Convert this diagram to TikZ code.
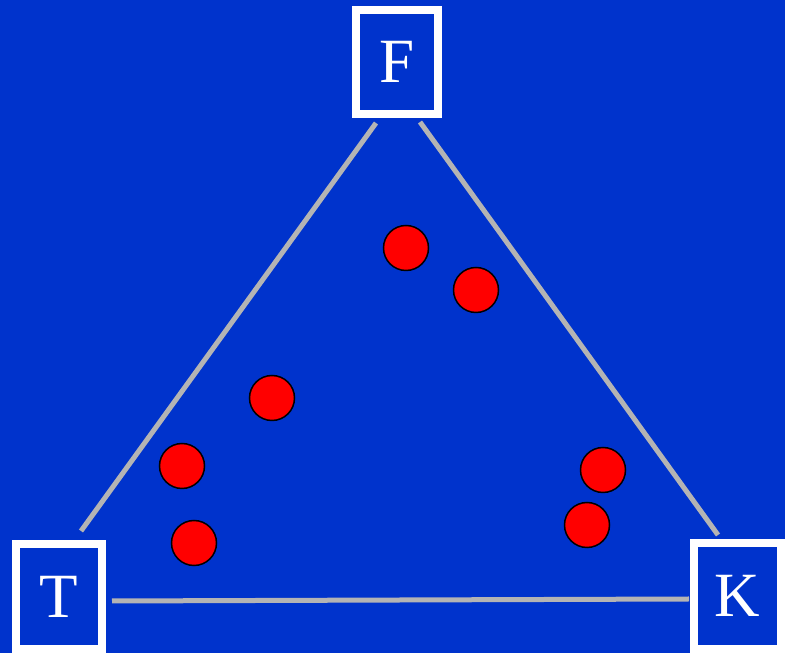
\documentclass[tikz,border=0pt]{standalone}
\usepackage{fontspec}
\setmainfont{Liberation Serif}
\usetikzlibrary{calc}
\definecolor{bgblue}{RGB}{0,51,204}
\definecolor{edgegray}{RGB}{180,180,180}
\tikzset{
  corner/.style={draw=white, line width=8pt, fill=bgblue, text=white, inner sep=0pt,
    font=\fontsize{63}{63}\selectfont},
  dot/.style={circle, draw=black, line width=1.5pt, fill=red, minimum size=45pt, inner sep=0pt},
  edge/.style={draw=edgegray, line width=5pt}
}
\begin{document}
\begin{tikzpicture}[x=1pt,y=1pt]
\fill[bgblue] (0,0) rectangle (785,653);
\useasboundingbox (0,0) rectangle (785,653);
\node[corner, minimum width=82pt, minimum height=104pt] (F) at (397,591) {F};
\node[corner, minimum width=86pt, minimum height=105pt] (T) at (59,56.5) {T};
\node[corner, minimum width=87pt, minimum height=106pt] (K) at (737.5,57) {K};
\coordinate (ft1) at ($(F.south)+(-21,-5)$);
\coordinate (ft2) at ($(T.north)+(22,9)$);
\coordinate (fk1) at ($(F.south)+(23,-4)$);
\coordinate (fk2) at ($(K.north)+(-19.5,4)$);
\coordinate (tk1) at ($(T.east)+(6,-4.5)$);
\coordinate (tk2) at ($(K.west)+(-1,-3)$);
\draw[edge] (ft1) -- (ft2);
\draw[edge] (fk1) -- (fk2);
\draw[edge] (tk1) -- (tk2);
\node[dot] (c1) at (406,405) {};
\node[dot] (c2) at (476,363) {};
\node[dot] (c3) at (272,255) {};
\node[dot] (c4) at (182,187) {};
\node[dot] (c5) at (194,110) {};
\node[dot] (c6) at (603,183) {};
\node[dot] (c7) at (587,128) {};
\end{tikzpicture}
\end{document}
